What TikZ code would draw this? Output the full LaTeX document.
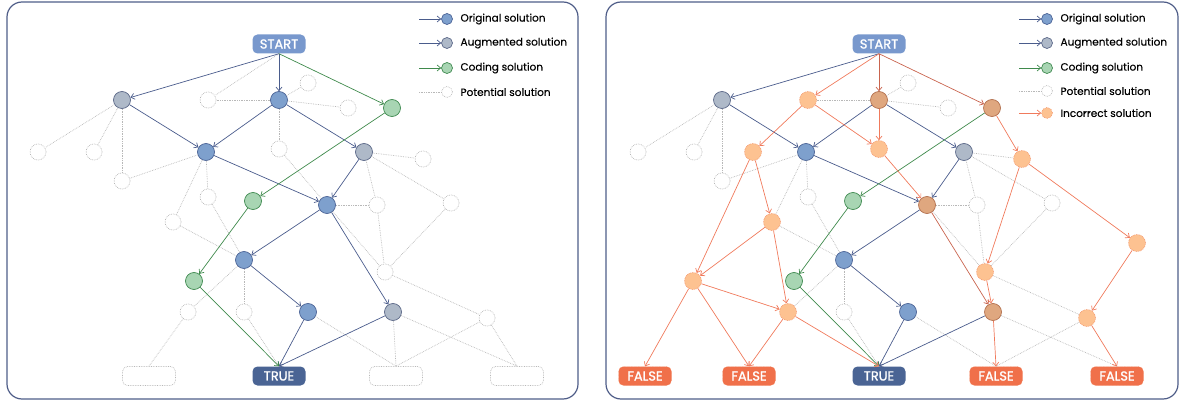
\documentclass[tikz,border=0pt]{standalone}
\usepackage{fontspec}
\setmainfont{Poppins}[FakeBold=0.4]
\newfontfamily\boxfont{Poppins}[FakeBold=1.2]
\usepackage{tikz}
\usetikzlibrary{positioning,arrows.meta}

\definecolor{origfill}{HTML}{7EA0CD}
\definecolor{origline}{HTML}{4B6396}
\definecolor{augfill}{HTML}{AEB9C8}
\definecolor{augline}{HTML}{5B6888}
\definecolor{codefill}{HTML}{A8D5B3}
\definecolor{codeline}{HTML}{3F8A50}
\definecolor{wrongfill}{HTML}{FDC291}
\definecolor{wrongline}{HTML}{F3946A}
\definecolor{mixfill}{HTML}{DFA77F}
\definecolor{mixline}{HTML}{B3704E}
\definecolor{potline}{HTML}{B8B8B8}
\definecolor{edgeblue}{HTML}{4A5C8C}
\definecolor{edgegreen}{HTML}{3F8A4C}
\definecolor{edgewrong}{HTML}{F07A5C}
\definecolor{edgemix}{HTML}{C9644E}
\definecolor{startfill}{HTML}{7898CD}
\definecolor{truefill}{HTML}{4A6494}
\definecolor{falsefill}{HTML}{F0704A}
\definecolor{panelline}{HTML}{4F5D88}

\tikzstyle{orig}=[circle, draw=origline, fill=origfill, line width=0.7pt, inner sep=0pt, minimum size=17pt]
\tikzstyle{aug}=[orig, draw=augline, fill=augfill]
\tikzstyle{code}=[orig, draw=codeline, fill=codefill]
\tikzstyle{mixed}=[orig, draw=mixline, fill=mixfill]
\tikzstyle{wrong}=[orig, draw=wrongline, fill=wrongfill, densely dotted]
\tikzstyle{pot}=[circle, draw=potline, densely dotted, line width=0.7pt, inner sep=0pt, minimum size=16pt]
\tikzstyle{endbox}=[rounded corners=5pt, minimum width=53pt, minimum height=19pt, inner sep=0pt, text=white, font=\boxfont\fontsize{13}{13}\selectfont]
\tikzstyle{startbox}=[endbox, fill=startfill]
\tikzstyle{truebox}=[endbox, fill=truefill]
\tikzstyle{falsebox}=[endbox, fill=falsefill, draw=wrongline, densely dotted]
\tikzstyle{emptybox}=[endbox, draw=potline, densely dotted, line width=0.7pt]
\tikzstyle{bl}=[->, edgeblue, line width=0.7pt]
\tikzstyle{gr}=[->, edgegreen, line width=0.7pt]
\tikzstyle{wr}=[->, edgewrong, line width=0.7pt]
\tikzstyle{mx}=[->, edgemix, line width=0.7pt]
\tikzstyle{potedge}=[potline, densely dotted, line width=0.7pt]
\tikzstyle{key}=[circle, inner sep=0pt, minimum size=11pt, line width=0.7pt]
\tikzstyle{keytext}=[anchor=west, font=\fontsize{10.5}{12}\selectfont]

\begin{document}
\begin{tikzpicture}[x=1pt, y=-1pt, >={Straight Barb[length=3.5pt,width=6pt]}]
				\useasboundingbox (0,0) rectangle (1179,401);
				\draw[panelline, line width=1.2pt, rounded corners=15pt] (7,2) rectangle (578,399);
				\draw[panelline, line width=1.2pt, rounded corners=15pt] (606,2) rectangle (1178,399);

				% left panel
				\node[startbox] (lstart) at (279, 44) {START};
				\node[aug] (la1) at (122, 100) {};
				\node[pot] (lp1) at (208, 100) {};
				\node[orig] (lo1) at (279, 100) {};
				\node[pot] (lp2) at (308, 83) {};
				\node[pot] (lp3) at (348, 108) {};
				\node[code] (lc1) at (392, 108) {};
				\node[pot] (lp4) at (38, 152) {};
				\node[pot] (lp5) at (94, 152) {};
				\node[pot] (lp6) at (122, 181) {};
				\node[orig] (lo2) at (206, 152) {};
				\node[pot] (lp7) at (279, 149) {};
				\node[aug] (la2) at (364, 152) {};
				\node[pot] (lp8) at (423, 159) {};
				\node[pot] (lp9) at (208, 197) {};
				\node[code] (lc2) at (253, 201) {};
				\node[orig] (lo3) at (327, 205) {};
				\node[pot] (lp10) at (377, 205) {};
				\node[pot] (lp11) at (451, 203) {};
				\node[pot] (lp12) at (173, 222) {};
				\node[orig] (lo4) at (244, 260) {};
				\node[pot] (lp13) at (385, 272) {};
				\node[code] (lc3) at (194, 281) {};
				\node[pot] (lp14) at (188, 312) {};
				\node[pot] (lp15) at (244, 312) {};
				\node[orig] (lo5) at (308, 312) {};
				\node[aug] (la3) at (393, 312) {};
				\node[pot] (lp16) at (487, 318) {};
				\node[emptybox] (lb1) at (149, 376) {};
				\node[truebox] (ltrue) at (279, 376) {TRUE};
				\node[emptybox] (lb2) at (396, 376) {};
				\node[emptybox] (lb3) at (517, 376) {};

				\draw[potedge] (lstart.south) -- (lp1);
				\draw[potedge] (lo1) -- (lp1);
				\draw[potedge] (lo1) -- (lp2);
				\draw[potedge] (lo1) -- (lp3);
				\draw[potedge] (lo1) -- (lp7);
				\draw[potedge] (la1) -- (lp4);
				\draw[potedge] (la1) -- (lp5);
				\draw[potedge] (la1) -- (lp6);
				\draw[potedge] (lo2) -- (lp6);
				\draw[potedge] (lo2) -- (lp9);
				\draw[potedge] (lo2) -- (lp12);
				\draw[potedge] (lp7) -- (lo3);
				\draw[potedge] (lp9) -- (lo4);
				\draw[potedge] (lp12) -- (lo4);
				\draw[potedge] (la2) -- (lp8);
				\draw[potedge] (la2) -- (lp10);
				\draw[potedge] (la2) -- (lp11);
				\draw[potedge] (lo3) -- (lp10);
				\draw[potedge] (lo3) -- (lp13);
				\draw[potedge] (lp10) -- (lp13);
				\draw[potedge] (lp11) -- (lp13);
				\draw[potedge] (lp13) -- (lp16);
				\draw[potedge] (lo4) -- (lp14);
				\draw[potedge] (lo4) -- (lp15);
				\draw[potedge] (lp14) -- (lb1.north);
				\draw[potedge] (lp15) -- (ltrue.north);
				\draw[potedge] (lo5) -- (lb2.north);
				\draw[potedge] (la3) -- (lb2.north);
				\draw[potedge] (la3) -- (lb3.north);
				\draw[potedge] (lp16) -- (lb2.north);
				\draw[potedge] (lp16) -- (lb3.north);

				\draw[bl] (lstart.south) -- (la1);
				\draw[bl] (lstart.south) -- (lo1);
				\draw[bl] (la1) -- (lo2);
				\draw[bl] (lo1) -- (lo2);
				\draw[bl] (lo1) -- (la2);
				\draw[bl] (lo2) -- (lo3);
				\draw[bl] (la2) -- (lo3);
				\draw[bl] (lo3) -- (lo4);
				\draw[bl] (lo3) -- (la3);
				\draw[bl] (lo4) -- (lo5);
				\draw[bl] (lo5) -- (ltrue.north);
				\draw[bl] (la3) -- (ltrue.north);
				\draw[gr] (lstart.south) -- (lc1);
				\draw[gr] (lc1) -- (lc2);
				\draw[gr] (lc2) -- (lc3);
				\draw[gr] (lc3) -- (ltrue.north);

				% left key
				\coordinate (lks1) at (419, 19);
				\coordinate (lks2) at (419, 43);
				\coordinate (lks3) at (419, 68);
				\coordinate (lks4) at (419, 92);
				\node[key, draw=origline, fill=origfill] (lk1) at (447, 19) {};
				\node[key, draw=augline, fill=augfill] (lk2) at (447, 43) {};
				\node[key, draw=codeline, fill=codefill] (lk3) at (447, 68) {};
				\node[key, draw=potline, densely dotted] (lk4) at (447, 92) {};
				\draw[bl] (lks1) -- (lk1);
				\draw[bl] (lks2) -- (lk2);
				\draw[gr] (lks3) -- (lk3);
				\draw[potedge] (lks4) -- (lk4);
				\node[keytext] (lt1) at (457, 19) {Original solution};
				\node[keytext] (lt2) at (457, 43) {Augmented solution};
				\node[keytext] (lt3) at (457, 68) {Coding solution};
				\node[keytext] (lt4) at (457, 92) {Potential solution};

				% right panel
				\node[startbox] (rstart) at (879, 44) {START};
				\node[aug] (ra1) at (722, 100) {};
				\node[wrong] (ri1) at (808, 100) {};
				\node[mixed] (ro1) at (879, 100) {};
				\node[pot] (rp2) at (908, 83) {};
				\node[pot] (rp3) at (948, 108) {};
				\node[mixed] (rc1) at (992, 108) {};
				\node[pot] (rp4) at (638, 152) {};
				\node[pot] (rp5) at (694, 152) {};
				\node[wrong] (ri2) at (753, 152) {};
				\node[pot] (rp6) at (722, 181) {};
				\node[orig] (ro2) at (806, 152) {};
				\node[wrong] (ri3) at (879, 149) {};
				\node[aug] (ra2) at (964, 152) {};
				\node[wrong] (ri4) at (1022, 159) {};
				\node[pot] (rp9) at (808, 197) {};
				\node[code] (rc2) at (853, 201) {};
				\node[mixed] (ro3) at (927, 205) {};
				\node[pot] (rp10) at (977, 205) {};
				\node[pot] (rp11) at (1052, 203) {};
				\node[wrong] (ri5) at (772, 222) {};
				\node[wrong] (ri6) at (1137, 243) {};
				\node[orig] (ro4) at (844, 260) {};
				\node[wrong] (ri7) at (985, 272) {};
				\node[code] (rc3) at (794, 281) {};
				\node[wrong] (ri8) at (693, 281) {};
				\node[wrong] (ri9) at (788, 312) {};
				\node[pot] (rp15) at (844, 312) {};
				\node[orig] (ro5) at (908, 312) {};
				\node[mixed] (ra3) at (993, 312) {};
				\node[wrong] (ri10) at (1087, 318) {};
				\node[falsebox] (rf1) at (645, 376) {FALSE};
				\node[falsebox] (rf2) at (749, 376) {FALSE};
				\node[truebox] (rtrue) at (879, 376) {TRUE};
				\node[falsebox] (rf3) at (996, 376) {FALSE};
				\node[falsebox] (rf4) at (1117, 376) {FALSE};

				\draw[potedge] (ro1) -- (ri1);
				\draw[potedge] (ro1) -- (rp2);
				\draw[potedge] (ro1) -- (rp3);
				\draw[potedge] (ra1) -- (rp4);
				\draw[potedge] (ra1) -- (rp5);
				\draw[potedge] (ra1) -- (rp6);
				\draw[potedge] (ro2) -- (rp6);
				\draw[potedge] (ro2) -- (rp9);
				\draw[potedge] (ro2) -- (ri5);
				\draw[potedge] (rp9) -- (ro4);
				\draw[potedge] (ri5) -- (ro4);
				\draw[potedge] (ra2) -- (ri4);
				\draw[potedge] (ra2) -- (rp10);
				\draw[potedge] (ra2) -- (rp11);
				\draw[potedge] (ro3) -- (rp10);
				\draw[potedge] (ro3) -- (ri7);
				\draw[potedge] (rp10) -- (ri7);
				\draw[potedge] (rp11) -- (ri7);
				\draw[potedge] (ri7) -- (ri10);
				\draw[potedge] (ro4) -- (ri9);
				\draw[potedge] (ro4) -- (rp15);
				\draw[potedge] (rp15) -- (rtrue.north);
				\draw[potedge] (ro5) -- (rf3.north);
				\draw[potedge] (ra3) -- (rf4.north);
				\draw[potedge] (ri10) -- (rf3.north);

				\draw[bl] (rstart.south) -- (ra1);
				\draw[bl] (ra1) -- (ro2);
				\draw[bl] (ro1) -- (ro2);
				\draw[bl] (ro1) -- (ra2);
				\draw[bl] (ro2) -- (ro3);
				\draw[bl] (ra2) -- (ro3);
				\draw[bl] (ro3) -- (ro4);
				\draw[bl] (ro4) -- (ro5);
				\draw[bl] (ro5) -- (rtrue.north);
				\draw[bl] (ra3) -- (rtrue.north);
				\draw[gr] (rc1) -- (rc2);
				\draw[gr] (rc2) -- (rc3);
				\draw[gr] (rc3) -- (rtrue.north);
				\draw[mx] (rstart.south) -- (ro1);
				\draw[mx] (rstart.south) -- (rc1);
				\draw[mx] (ro3) -- (ra3);
				\draw[wr] (rstart.south) -- (ri1);
				\draw[wr] (ri1) -- (ri2);
				\draw[wr] (ri1) -- (ri3);
				\draw[wr] (ro1) -- (ri3);
				\draw[wr] (ri3) -- (ro3);
				\draw[wr] (rc1) -- (ri4);
				\draw[wr] (ri4) -- (ri6);
				\draw[wr] (ri4) -- (ri7);
				\draw[wr] (ri7) -- (ra3);
				\draw[wr] (ri6) -- (ri10);
				\draw[wr] (ra3) -- (rf3.north);
				\draw[wr] (ri10) -- (rf4.north);
				\draw[wr] (ri2) -- (ri5);
				\draw[wr] (ri2) -- (ri8);
				\draw[wr] (ri5) -- (ri8);
				\draw[wr] (ri5) -- (ri9);
				\draw[wr] (ri8) -- (ri9);
				\draw[wr] (ri8) -- (rf1.north);
				\draw[wr] (ri8) -- (rf2.north);
				\draw[wr] (ri9) -- (rf2.north);
				\draw[wr] (ri9) -- (rtrue.north);

				% right key
				\coordinate (rks1) at (1019, 19);
				\coordinate (rks2) at (1019, 43);
				\coordinate (rks3) at (1019, 68);
				\coordinate (rks4) at (1019, 91);
				\coordinate (rks5) at (1019, 113);
				\node[key, draw=origline, fill=origfill] (rk1) at (1047, 19) {};
				\node[key, draw=augline, fill=augfill] (rk2) at (1047, 43) {};
				\node[key, draw=codeline, fill=codefill] (rk3) at (1047, 68) {};
				\node[key, draw=potline, densely dotted] (rk4) at (1047, 91) {};
				\node[key, draw=wrongline, fill=wrongfill, densely dotted] (rk5) at (1047, 113) {};
				\draw[bl] (rks1) -- (rk1);
				\draw[bl] (rks2) -- (rk2);
				\draw[gr] (rks3) -- (rk3);
				\draw[potedge] (rks4) -- (rk4);
				\draw[wr] (rks5) -- (rk5);
				\node[keytext] (rt1) at (1057, 19) {Original solution};
				\node[keytext] (rt2) at (1057, 43) {Augmented solution};
				\node[keytext] (rt3) at (1057, 68) {Coding solution};
				\node[keytext] (rt4) at (1057, 91) {Potential solution};
				\node[keytext] (rt5) at (1057, 113) {Incorrect solution};
			\end{tikzpicture}
\end{document}
